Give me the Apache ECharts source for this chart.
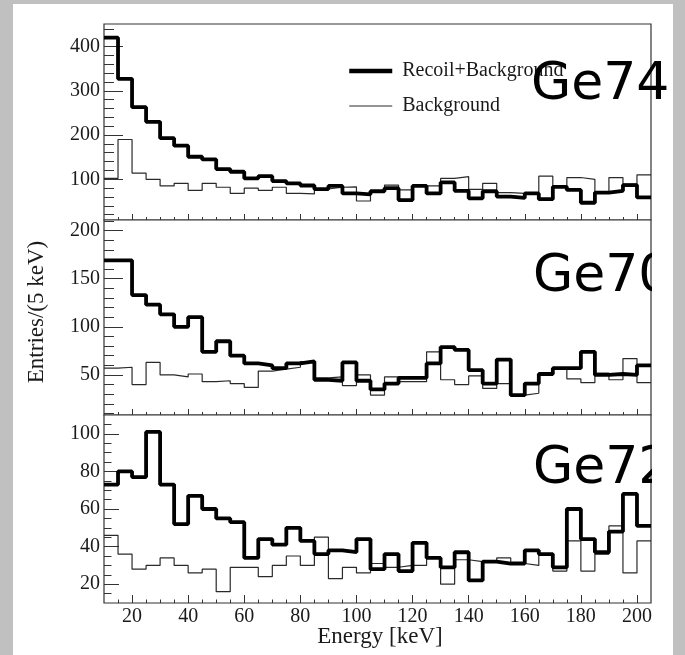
<!DOCTYPE html>
<html>
<head>
<meta charset="utf-8">
<script src="https://cdn.jsdelivr.net/npm/echarts@6/dist/echarts.min.js"></script>
<style>html,body{margin:0;padding:0;background:#c0c0c0;}#chart{width:685px;height:655px;}</style>
</head>
<body>
<div id="chart"></div>
<script>
// ---- data (5 keV bins, left edges 10..200, last edge 205) ----
const binEdges = [10,15,20,25,30,35,40,45,50,55,60,65,70,75,80,85,90,95,100,105,110,115,120,125,130,135,140,145,150,155,160,165,170,175,180,185,190,195,200,205];

const recoil74 = [420,327,263,230,193,176,151,145,123,117,102,107,96,91,86,78,85,68,66,73,80,53,85,68,93,74,57,73,61,58,68,55,83,76,47,70,74,87,59];
const bg74     = [102,190,114,100,85,91,75,91,82,68,80,75,82,68,67,78,82,83,51,72,87,76,85,85,102,106,77,91,70,68,70,107,82,104,100,72,104,89,110];

const recoil70 = [169,169,133,123,113,100,110,74,85,70,62,60,57,62,64,45,44,63,44,35,41,47,47,62,79,76,55,41,66,29,41,51,57,57,74,50,51,50,60];
const bg70     = [57,58,40,63,50,48,51,43,44,41,37,54,56,58,64,47,48,39,50,29,48,43,43,74,45,40,49,36,41,29,31,51,57,46,42,52,45,67,42];

const recoil72 = [73,80,77,101,73,52,67,60,55,53,34,44,41,50,43,36,38,37,44,28,36,27,42,34,29,37,22,32,31,31,38,36,29,60,44,37,48,68,51];
const bg72     = [46,36,28,30,34,30,26,28,16,29,29,24,30,35,30,45,23,29,26,31,29,30,30,34,20,33,32,32,34,31,30,36,27,43,27,36,51,26,43];

const panelNames = ['Ge74','Ge70','Ge72'];
const seriesNames = ['Recoil+Background','Background'];

// tick values
const xMajorTicks = [20,40,60,80,100,120,140,160,180,200];
const xMinorTicks = [15,20,25,30,35,40,45,50,55,60,65,70,75,80,85,90,95,100,105,110,115,120,125,130,135,140,145,150,155,160,165,170,175,180,185,190,195,200];
const yMajor74 = [100,200,300,400];
const yMinor74 = [20,40,60,80,100,120,140,160,180,200,220,240,260,280,300,320,340,360,380,400,420,440];
const yMajor70 = [50,100,150,200];
const yMinor70 = [10,20,30,40,50,60,70,80,90,100,110,120,130,140,150,160,170,180,190,200,210];
const yMajor72 = [20,40,60,80,100];
const yMinor72 = [15,20,25,30,35,40,45,50,55,60,65,70,75,80,85,90,95,100,105];
const yRange74 = [8,451];
const yRange70 = [8.4,211];
const yRange72 = [10,110];
const xRange = [10,205];

// ---- build ----
function histPoints(vals){
  const pts = vals.map((v,i)=>[binEdges[i], v]);
  pts.push([binEdges[vals.length], vals[vals.length-1]]);
  return pts;
}
const SERIF = 'Liberation Serif';
const TXT = '#1a1a1a';
const panels = [
  {top:24, height:196, range:yRange74, major:yMajor74, minor:yMinor74, recoil:recoil74, bg:bg74, yMaj:19, yMin:10, xMaj:6, xMin:3, labels:false},
  {top:220, height:195, range:yRange70, major:yMajor70, minor:yMinor70, recoil:recoil70, bg:bg70, yMaj:19, yMin:10, xMaj:6, xMin:3, labels:false},
  {top:415, height:188, range:yRange72, major:yMajor72, minor:yMinor72, recoil:recoil72, bg:bg72, yMaj:15, yMin:7.5, xMaj:8, xMin:3.5, labels:true}
];
const grid=[], xAxis=[], yAxis=[], series=[];
panels.forEach((p,i)=>{
  grid.push({left:104, right:34, top:p.top, height:p.height, show:true, borderColor:'#333', borderWidth:1.2, backgroundColor:'#fff'});
  xAxis.push({type:'value', gridIndex:i, position:'bottom', min:xRange[0], max:xRange[1],
    axisLine:{show:false}, splitLine:{show:false},
    axisTick:{show:true, inside:true, length:p.xMaj, customValues:xMajorTicks, lineStyle:{color:'#333', width:1}},
    axisLabel:{show:p.labels, customValues:xMajorTicks, margin:4, fontFamily:SERIF, fontSize:20, color:TXT}});
  xAxis.push({type:'value', gridIndex:i, position:'bottom', min:xRange[0], max:xRange[1],
    axisLine:{show:false}, splitLine:{show:false},
    axisTick:{show:true, inside:true, length:p.xMin, customValues:xMinorTicks, lineStyle:{color:'#333', width:1}},
    axisLabel:{show:false}});
  yAxis.push({type:'value', gridIndex:i, position:'left', min:p.range[0], max:p.range[1],
    axisLine:{show:false}, splitLine:{show:false},
    axisTick:{show:true, inside:true, length:p.yMaj, customValues:p.major, lineStyle:{color:'#333', width:1}},
    axisLabel:{show:true, customValues:p.major, margin:4, fontFamily:SERIF, fontSize:20, color:TXT}});
  yAxis.push({type:'value', gridIndex:i, position:'left', min:p.range[0], max:p.range[1],
    axisLine:{show:false}, splitLine:{show:false},
    axisTick:{show:true, inside:true, length:p.yMin, customValues:p.minor, lineStyle:{color:'#333', width:1}},
    axisLabel:{show:false}});
  series.push({type:'line', name:seriesNames[1], xAxisIndex:2*i, yAxisIndex:2*i, step:'end', symbol:'none',
    data:histPoints(p.bg), lineStyle:{color:'#2a2a2a', width:1.2}, itemStyle:{color:'#2a2a2a'}, z:3, clip:true});
  series.push({type:'line', name:seriesNames[0], xAxisIndex:2*i, yAxisIndex:2*i, step:'end', symbol:'none',
    data:histPoints(p.recoil), lineStyle:{color:'#000', width:3.8}, itemStyle:{color:'#000'}, z:4, clip:true});
});

const option = {
  animation:false,
  backgroundColor:'#c0c0c0',
  grid, xAxis, yAxis, series,
  legend:{
    data:[
      {name:seriesNames[0], itemStyle:{opacity:0}, lineStyle:{width:4.5, color:'#000'}},
      {name:seriesNames[1], itemStyle:{opacity:0}, lineStyle:{width:1.2, color:'#2a2a2a'}}
    ],
    orient:'vertical', left:342, top:56, itemWidth:43, itemHeight:14, itemGap:15,
    textStyle:{fontFamily:SERIF, fontSize:20, color:TXT, padding:[0,0,0,5]}},
  graphic:[
    {type:'rect', z:-10, shape:{x:13, y:4, width:660, height:651}, style:{fill:'#ffffff'}},
    {type:'text', z:50, left:531, top:59, style:{text:panelNames[0], font:'52px "DejaVu Sans"', fill:'#000'}},
    {type:'text', z:50, left:533, top:251, style:{text:panelNames[1], font:'52px "DejaVu Sans"', fill:'#000'}},
    {type:'text', z:50, left:533, top:443, style:{text:panelNames[2], font:'52px "DejaVu Sans"', fill:'#000'}},
    {type:'rect', z:60, shape:{x:652, y:222, width:21, height:380}, style:{fill:'#ffffff'}},
    {type:'text', z:50, x:37, y:312, rotation:Math.PI/2, style:{text:'Entries/(5 keV)', font:'23px "Liberation Serif"', fill:TXT, align:'center', verticalAlign:'middle'}},
    {type:'text', z:50, x:380, y:637, style:{text:'Energy [keV]', font:'23px "Liberation Serif"', fill:TXT, align:'center', verticalAlign:'middle'}}
  ]
};
const chart = echarts.init(document.getElementById('chart'), null, {renderer:'canvas'});
chart.setOption(option);
</script>
</body>
</html>
